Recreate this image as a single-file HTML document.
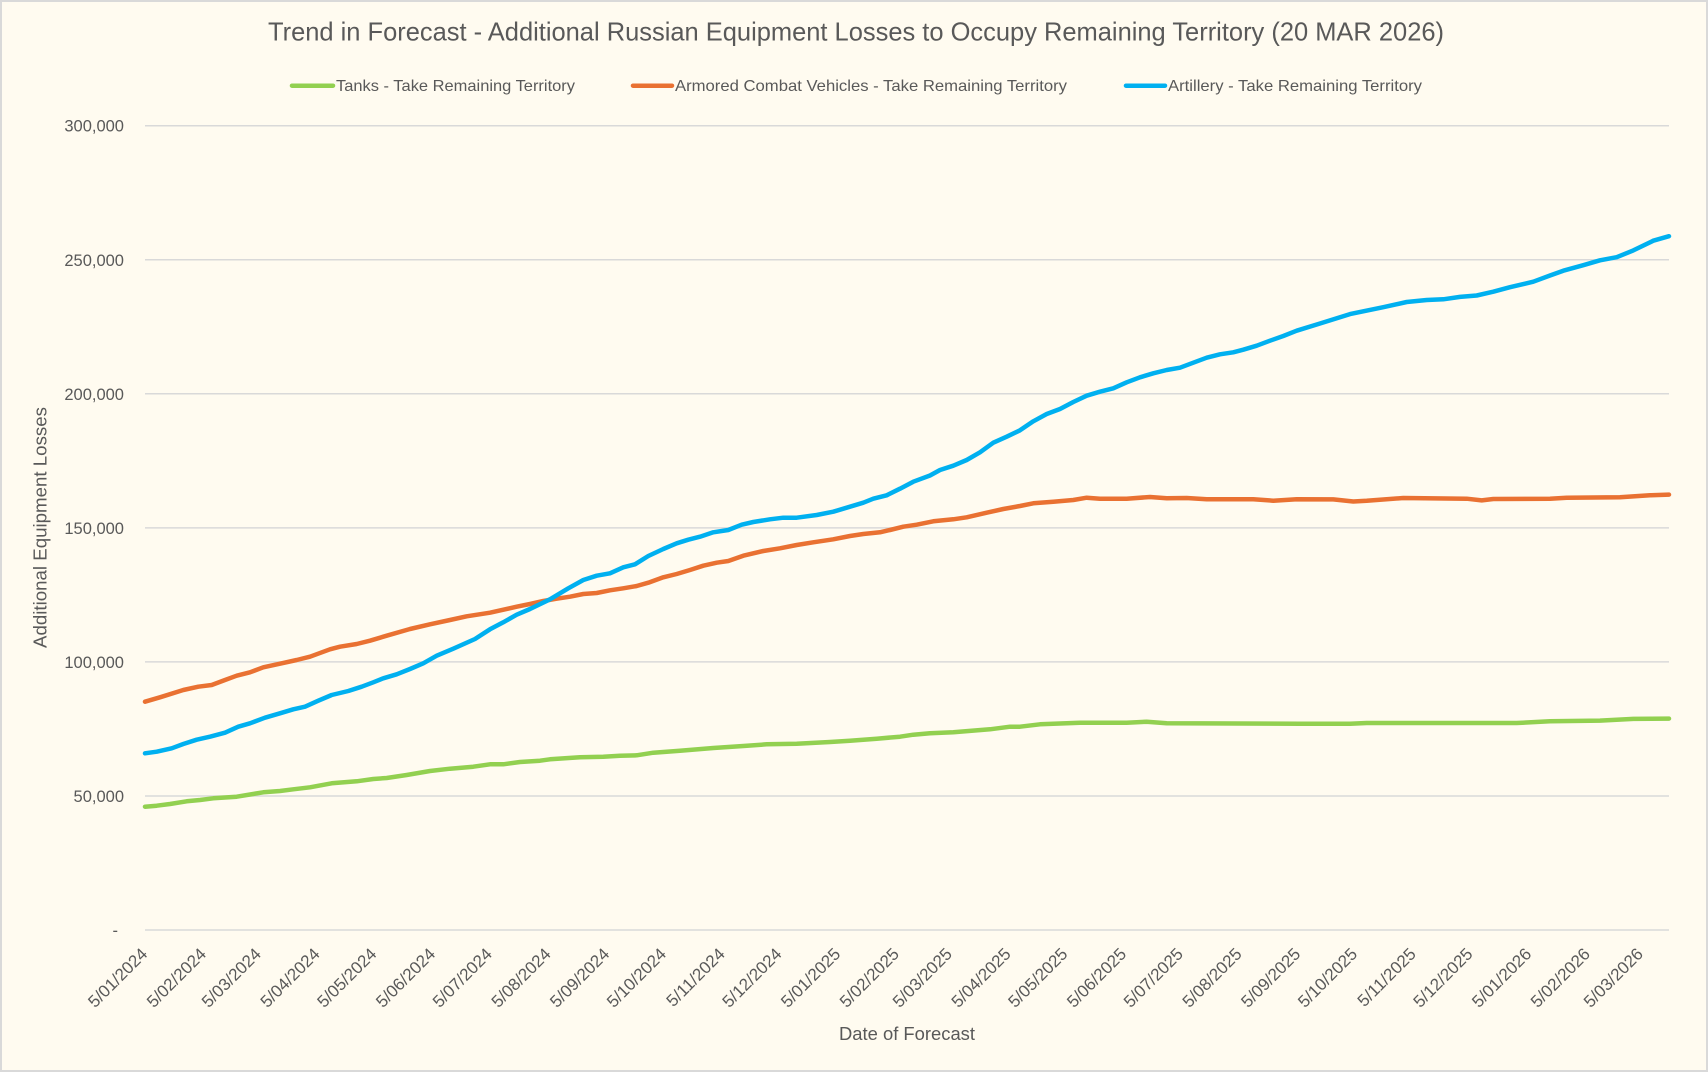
<!DOCTYPE html>
<html>
<head>
<meta charset="utf-8">
<style>
html,body{margin:0;padding:0;background:#FFFBF0;}
svg{display:block;}
text{font-family:"Liberation Sans",Arial,sans-serif;fill:#595959;}
</style>
</head>
<body>
<svg width="1708" height="1072" viewBox="0 0 1708 1072" xmlns="http://www.w3.org/2000/svg">
<rect x="1" y="1" width="1706" height="1070" fill="#FFFBF0" stroke="#D9D9D9" stroke-width="2"/>

<!-- Title -->
<text x="268" y="40.7" font-size="26" textLength="1176" lengthAdjust="spacingAndGlyphs">Trend in Forecast - Additional Russian Equipment Losses to Occupy Remaining Territory (20 MAR 2026)</text>

<!-- Legend -->
<g stroke-width="4.5" stroke-linecap="round">
<line x1="292" y1="85.7" x2="333" y2="85.7" stroke="#92D050"/>
<line x1="633" y1="85.7" x2="672" y2="85.7" stroke="#E97132"/>
<line x1="1126" y1="85.7" x2="1165" y2="85.7" stroke="#00B0F0"/>
</g>
<text x="336" y="91" font-size="16" textLength="239" lengthAdjust="spacingAndGlyphs">Tanks - Take Remaining Territory</text>
<text x="675" y="91" font-size="16" textLength="392" lengthAdjust="spacingAndGlyphs">Armored Combat Vehicles - Take Remaining Territory</text>
<text x="1168" y="91" font-size="16" textLength="254" lengthAdjust="spacingAndGlyphs">Artillery - Take Remaining Territory</text>

<!-- Gridlines -->
<g stroke="#D9D9D9" stroke-width="1.5">
<line x1="145" y1="125.7" x2="1669" y2="125.7"/>
<line x1="145" y1="259.75" x2="1669" y2="259.75"/>
<line x1="145" y1="393.8" x2="1669" y2="393.8"/>
<line x1="145" y1="527.85" x2="1669" y2="527.85"/>
<line x1="145" y1="661.9" x2="1669" y2="661.9"/>
<line x1="145" y1="795.95" x2="1669" y2="795.95"/>
<line x1="145" y1="930" x2="1669" y2="930"/>
</g>

<!-- Y tick labels -->
<g font-size="16.5" text-anchor="end">
<text x="124" y="131.7">300,000</text>
<text x="124" y="265.75">250,000</text>
<text x="124" y="399.8">200,000</text>
<text x="124" y="533.85">150,000</text>
<text x="124" y="667.9">100,000</text>
<text x="124" y="801.95">50,000</text>
<text x="118" y="936">-</text>
</g>

<!-- Y axis title -->
<text transform="translate(46.5,527.5) rotate(-90)" text-anchor="middle" font-size="18" textLength="241" lengthAdjust="spacingAndGlyphs">Additional Equipment Losses</text>

<!-- X axis title -->
<text x="907" y="1040" text-anchor="middle" font-size="18.5" textLength="136" lengthAdjust="spacingAndGlyphs">Date of Forecast</text>

<!-- X tick labels -->
<g font-size="17" text-anchor="end">
<text transform="translate(148.5,955) rotate(-45)">5/01/2024</text>
<text transform="translate(207.2,955) rotate(-45)">5/02/2024</text>
<text transform="translate(262.1,955) rotate(-45)">5/03/2024</text>
<text transform="translate(320.8,955) rotate(-45)">5/04/2024</text>
<text transform="translate(377.6,955) rotate(-45)">5/05/2024</text>
<text transform="translate(436.3,955) rotate(-45)">5/06/2024</text>
<text transform="translate(493.1,955) rotate(-45)">5/07/2024</text>
<text transform="translate(551.8,955) rotate(-45)">5/08/2024</text>
<text transform="translate(610.4,955) rotate(-45)">5/09/2024</text>
<text transform="translate(667.2,955) rotate(-45)">5/10/2024</text>
<text transform="translate(725.9,955) rotate(-45)">5/11/2024</text>
<text transform="translate(782.7,955) rotate(-45)">5/12/2024</text>
<text transform="translate(841.4,955) rotate(-45)">5/01/2025</text>
<text transform="translate(900.1,955) rotate(-45)">5/02/2025</text>
<text transform="translate(953.1,955) rotate(-45)">5/03/2025</text>
<text transform="translate(1011.8,955) rotate(-45)">5/04/2025</text>
<text transform="translate(1068.6,955) rotate(-45)">5/05/2025</text>
<text transform="translate(1127.3,955) rotate(-45)">5/06/2025</text>
<text transform="translate(1184.1,955) rotate(-45)">5/07/2025</text>
<text transform="translate(1242.8,955) rotate(-45)">5/08/2025</text>
<text transform="translate(1301.5,955) rotate(-45)">5/09/2025</text>
<text transform="translate(1358.3,955) rotate(-45)">5/10/2025</text>
<text transform="translate(1417,955) rotate(-45)">5/11/2025</text>
<text transform="translate(1473.7,955) rotate(-45)">5/12/2025</text>
<text transform="translate(1532.4,955) rotate(-45)">5/01/2026</text>
<text transform="translate(1591.1,955) rotate(-45)">5/02/2026</text>
<text transform="translate(1644.1,955) rotate(-45)">5/03/2026</text>
</g>

<!-- Series -->
<g fill="none" stroke-width="4.5" stroke-linejoin="round" stroke-linecap="round">
<polyline stroke="#92D050" points="145,806.7 156.7,805.7 170,804 186.7,801.3 200,800 213.3,798.3 236.7,796.7 263.3,792.3 280,791 293.3,789.3 310,787.3 331.7,783.3 356.7,781.3 373.3,779 386.7,778 406.7,775 430,771 450,768.7 473.3,766.7 490,764.3 503.3,764.3 520,762 540,760.7 550,759.3 580,757.3 603.3,756.7 620,755.7 636.7,755.3 653.3,752.7 680,750.7 713.3,748 743.3,746 766.7,744.3 796.7,743.7 830,742 850,740.7 876.7,738.7 900,736.7 913.3,734.7 930,733.3 953.3,732.3 990,729.3 1010,726.7 1020,726.7 1040,724.3 1066.7,723.3 1080,722.7 1126.7,722.7 1146.7,721.7 1166.7,723.3 1300,723.7 1350,723.7 1366.7,723 1516.7,723 1550,721.3 1600,720.6 1633.3,718.9 1669,718.6"/>
<polyline stroke="#E97132" points="145,701.7 160,697.3 183.3,690 198.3,686.7 211.7,685 225,680 236.7,675.7 250,672.3 263.3,667.3 280,663.7 296.7,660 310,656.7 330,649.3 340,646.7 356.7,644 370,640.7 386.7,635.7 410,629 430,624.3 450,620 466.7,616.3 490,612.7 516.7,606.7 530,604 543.3,601 556.7,598.7 570,596.7 583.3,594 596.7,593 610,590.3 623.3,588.3 636.7,586 648.3,582.7 663.3,577.3 676.7,574 690,570 703.3,565.7 716.7,562.7 728.3,561 743.3,555.7 763.3,551 780,548.3 796.7,545 813.3,542.3 833.3,539.3 850,536 863.3,534 880,532.3 890,530 903.3,526.7 916.7,524.7 933.3,521.3 953.3,519.3 966.7,517.3 986.7,512.7 1003.3,509 1020,506 1033.3,503.3 1053.3,501.7 1073.3,500 1086.7,497.7 1100,498.7 1126.7,498.7 1150,497 1166.7,498.3 1186.7,498 1206.7,499.3 1253.3,499.3 1273.3,500.7 1296.7,499.3 1333.3,499.4 1353.3,501.5 1366.7,500.8 1403.3,498 1466.7,498.7 1481.7,500.4 1493.3,499 1550,498.7 1566.7,497.7 1620,497.3 1650,495.3 1669,494.6"/>
<polyline stroke="#00B0F0" points="145,753.3 156.7,751.7 171.7,748.3 183.3,744 196.7,739.7 210,736.7 225,732.7 238.3,726.7 250,723.3 265,717.7 280,713.3 293.3,709.3 305,706.7 318.3,700.7 331.7,695 348.3,691 361.7,686.7 373.3,682.3 383.3,678.3 396.7,674.3 410,669 423.3,663.3 436.7,655.7 453.3,648.7 475,639 490,629.3 503.3,622.3 516.7,614.7 530,609 550,599.3 568.3,588.3 583.3,580 596.7,575.7 610,573.3 623.3,567.3 635,564.3 648.3,556 663.3,549 676.7,543.3 688.3,539.7 700,536.7 713.3,532.3 728.3,530 741.7,524.7 753.3,522 770,519.3 783.3,517.7 796.7,517.7 816.7,515 833.3,511.7 850,506.7 863.3,502.7 873.3,498.7 886.7,495.3 900,488.7 913.3,481.7 930,475.5 940,470 953.3,465.7 966.7,460 980,452.3 993.3,442.7 1006.7,436.7 1020,430.3 1033.3,421.3 1046.7,414 1060,409 1073.3,402 1086.7,395.7 1100,391.7 1113.3,388.3 1126.7,382.3 1140,377.3 1153.3,373.3 1166.7,370 1180,367.7 1193.3,362.7 1206.7,357.7 1220,354.3 1233.3,352.3 1243.3,349.7 1256.7,345.7 1270,340.7 1283.3,336 1296.7,330.7 1320,323.5 1350,314.1 1363.3,311.3 1383.3,307.2 1406.7,302 1426.7,300 1443.3,299.3 1460,296.9 1476.7,295.5 1493.3,291.7 1510,287.2 1533.3,281.7 1550,275.5 1563.3,270.7 1583.3,265.2 1600,260.3 1616.7,257.2 1633.3,250.4 1653.3,240.7 1669,236.2"/>
</g>
</svg>
</body>
</html>
